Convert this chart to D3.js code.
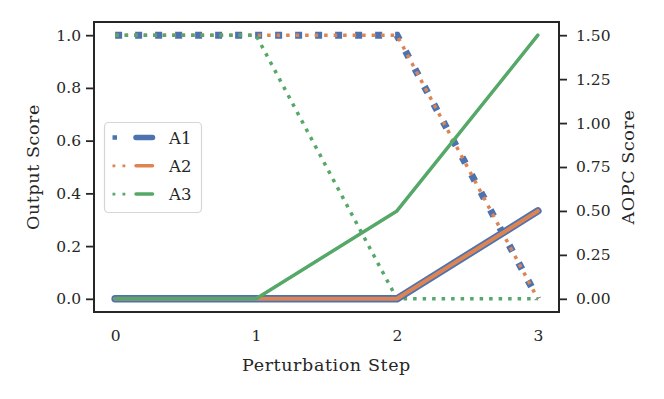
<!DOCTYPE html>
<html><head><meta charset="utf-8">
<script src="https://cdn.jsdelivr.net/npm/d3@7"></script>
<style>body{margin:0;background:#fff;} svg{display:block;} text{font-family:"DejaVu Serif",serif;fill:#262626;}</style>
</head><body>
<svg id="c" width="664" height="399"></svg>
<script>
const steps = [0, 1, 2, 3];
const methods = ["A1", "A2", "A3"];
const outputScores = {
  A1: [1.0, 1.0, 1.0, 0.0],
  A2: [1.0, 1.0, 1.0, 0.0],
  A3: [1.0, 1.0, 0.0, 0.0]
};
const aopcScores = {
  A1: [0.0, 0.0, 0.0, 0.5],
  A2: [0.0, 0.0, 0.0, 0.5],
  A3: [0.0, 0.0, 0.5, 1.5]
};
const leftTicks = [0.0, 0.2, 0.4, 0.6, 0.8, 1.0];
const rightTicks = [0.0, 0.25, 0.5, 0.75, 1.0, 1.25, 1.5];
const colors = {A1: "#4C72B0", A2: "#DD8452", A3: "#55A868"};
const dotW = {A1: 7, A2: 3.5, A3: 3.5};
const dotDash = {A1: "7,13", A2: "3.5,6", A3: "3.5,6"};
const solidW = {A1: 7.5, A2: 4, A3: 3.5};
const legDotW = {A1: 4.5, A2: 2.8, A3: 2.8};
const legDash = {A1: "4.5,20", A2: "2.8,7.2", A3: "2.8,7.2"};
const legSolidW = {A1: 5.5, A2: 3.5, A3: 3.5};

const svg = d3.select("#c");
const L = 94, R = 559, T = 22, B = 312;
const x = d3.scaleLinear().domain([-0.15, 3.15]).range([L, R]);
const yL = d3.scaleLinear().domain([-0.05, 1.05]).range([B, T]);
const yR = d3.scaleLinear().domain([-0.075, 1.575]).range([B, T]);

// dotted output score lines
methods.forEach(m => {
  const line = d3.line().x((d, i) => x(steps[i])).y(d => yL(d));
  svg.append("path").attr("d", line(outputScores[m]))
    .attr("fill", "none").attr("stroke", colors[m])
    .attr("stroke-width", dotW[m]).attr("stroke-dasharray", dotDash[m])
    .attr("stroke-linecap", "butt");
});
// solid AOPC lines
methods.forEach(m => {
  const line = d3.line().x((d, i) => x(steps[i])).y(d => yR(d));
  svg.append("path").attr("d", line(aopcScores[m]))
    .attr("fill", "none").attr("stroke", colors[m])
    .attr("stroke-width", solidW[m]).attr("stroke-linecap", "round")
    .attr("stroke-linejoin", "round");
});

// axes
const axL = svg.append("g").attr("transform", `translate(${L},0)`)
  .call(d3.axisLeft(yL).tickValues(leftTicks).tickFormat(d3.format(".1f")).tickSize(8).tickPadding(5));
const axR = svg.append("g").attr("transform", `translate(${R},0)`)
  .call(d3.axisRight(yR).tickValues(rightTicks).tickFormat(d3.format(".2f")).tickSize(8).tickPadding(9));
const axB = svg.append("g").attr("transform", `translate(0,${B})`)
  .call(d3.axisBottom(x).tickValues(steps).tickFormat(d3.format("d")).tickSize(0).tickPadding(18));
[axL, axR, axB].forEach(g => {
  g.select(".domain").remove();
  g.selectAll(".tick line").attr("stroke", "#262626").attr("stroke-width", 1.8);
  g.selectAll(".tick text").style("font-size", "15.5px").attr("fill", "#262626");
});
svg.append("rect").attr("x", L).attr("y", T).attr("width", R - L).attr("height", B - T)
  .attr("fill", "none").attr("stroke", "#262626").attr("stroke-width", 2);

// labels
svg.append("text").attr("x", (L + R) / 2).attr("y", 371).attr("text-anchor", "middle")
  .style("font-size", "17.5px").style("letter-spacing", "0.6px").text("Perturbation Step");
svg.append("text").attr("transform", `translate(39,${(T + B) / 2}) rotate(-90)`).attr("text-anchor", "middle")
  .style("font-size", "17.5px").style("letter-spacing", "0.6px").text("Output Score");
svg.append("text").attr("transform", `translate(634,${(T + B) / 2}) rotate(-90)`).attr("text-anchor", "middle")
  .style("font-size", "17.5px").style("letter-spacing", "0.6px").text("AOPC Score");

// legend
const lg = svg.append("g");
lg.append("rect").attr("x", 104.5).attr("y", 122.5).attr("width", 97).attr("height", 90)
  .attr("rx", 4).attr("fill", "#fff").attr("fill-opacity", 0.8).attr("stroke", "#d6d6d6").attr("stroke-width", 1.2);
methods.forEach((m, i) => {
  const yy = 137.5 + i * 28.3;
  lg.append("line").attr("x1", 112.5).attr("x2", 128).attr("y1", yy).attr("y2", yy)
    .attr("stroke", colors[m]).attr("stroke-width", legDotW[m]).attr("stroke-dasharray", legDash[m]);
  lg.append("line").attr("x1", 136).attr("x2", 152.5).attr("y1", yy).attr("y2", yy)
    .attr("stroke", colors[m]).attr("stroke-width", legSolidW[m]).attr("stroke-linecap", "round");
  lg.append("text").attr("x", 169).attr("y", yy + 6).style("font-size", "16.5px").text(m);
});
</script>
</body></html>
